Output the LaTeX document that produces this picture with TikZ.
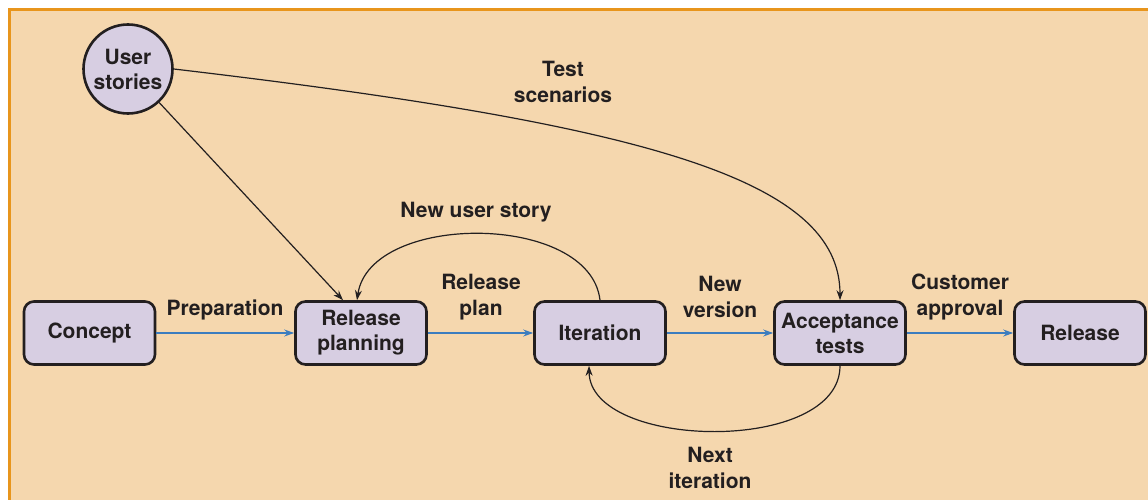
\documentclass[tikz,border=0pt]{standalone}
\usepackage{fontspec}
\setmainfont{TeX Gyre Heros}
\usetikzlibrary{arrows.meta}
\definecolor{bgc}{HTML}{F5D7AE}
\definecolor{bordc}{HTML}{E8951C}
\definecolor{boxc}{HTML}{D7CEE2}
\definecolor{bluec}{HTML}{3C7DBF}
\definecolor{inkc}{HTML}{231F20}
\tikzset{
  box/.style={draw=inkc, line width=2.6pt, fill=boxc, rounded corners=10pt,
    minimum width=131pt, minimum height=63pt, align=center, inner sep=2pt,
    font=\bfseries\fontsize{21}{25}\selectfont, text=inkc},
  circ/.style={draw=inkc, line width=2.6pt, fill=boxc, circle, minimum size=89pt,
    align=center, inner sep=0pt, font=\bfseries\fontsize{21}{25}\selectfont, text=inkc},
  lbl/.style={align=center, font=\bfseries\fontsize{21}{25.5}\selectfont, text=inkc, inner sep=0pt},
  flow/.style={draw=bluec, line width=1.2pt, -{Stealth[length=10pt,width=7pt]}},
  link/.style={draw=inkc, line width=1.2pt, -{Stealth[length=10pt,width=7pt]}}
}
\begin{document}
\begin{tikzpicture}[x=1pt,y=-1pt]
\useasboundingbox (0,0) rectangle (1148,500);
\fill[bgc] (9,10) rectangle (1148,500);
\draw[bordc, line width=3pt] (9,500) -- (9,10) -- (1148,10);

\node[circ] (us) at (128,69) {User\\stories};
\node[box] (concept) at (89.5,333) {Concept};
\node[box] (rp) at (361,333) {Release\\planning};
\node[box] (it) at (600,333) {Iteration};
\node[box] (at) at (840,333) {Acceptance\\tests};
\node[box] (rel) at (1080,333) {Release};

\draw[flow] (concept) -- (rp);
\draw[flow] (rp) -- (it);
\draw[flow] (it) -- (at);
\draw[flow] (at) -- (rel);

\draw[link] (us) -- ([xshift=-18pt]rp.north);
\draw[link] (us.east) .. controls (650,125) and (840,180) .. (at.north);
\draw[link] (it.north) .. controls (590,212) and (370,212) .. ([xshift=-4pt]rp.north);
\draw[link] (at.south) .. controls (840,455) and (590,450) .. ([xshift=-11pt]it.south);

\node[lbl] (ts) at (563,82) {Test\\scenarios};
\node[lbl] (nus) at (476,212) {New user story};
\node[lbl] (prep) at (225,310) {Preparation};
\node[lbl] (rpl) at (481,297) {Release\\plan};
\node[lbl] (nv) at (720,297) {New\\version};
\node[lbl] (ca) at (960,297) {Customer\\approval};
\node[lbl] (ni) at (710,468) {Next\\iteration};
\end{tikzpicture}
\end{document}
